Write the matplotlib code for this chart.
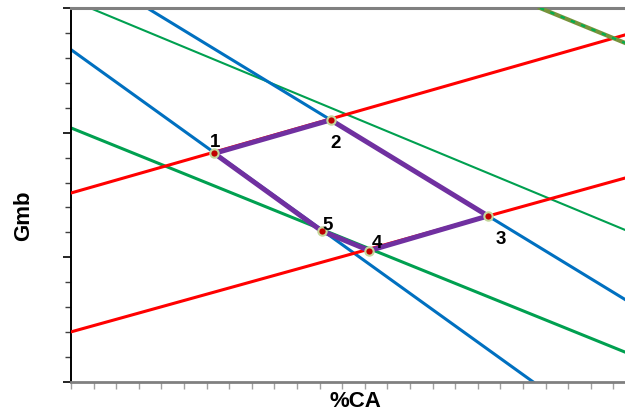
import matplotlib
matplotlib.use("Agg")
import matplotlib.pyplot as plt
from matplotlib.ticker import MultipleLocator

plt.rcParams['font.family'] = ['Liberation Sans', 'DejaVu Sans']

# Points of the polygon (data units)
pt_labels = ["1", "2", "3", "4", "5"]
pt_x = [6.34, 11.49, 18.45, 13.20, 11.09]
pt_y = [9.17, 10.51, 6.66, 5.27, 6.06]

# Straight lines: endpoints (x0, x1), (y0, y1)
red1_x, red1_y = [0.0, 24.51], [7.58, 13.92]
red2_x, red2_y = [0.0, 24.51], [2.01, 8.18]
blue1_x, blue1_y = [0.0, 20.45], [13.33, 0.0]
blue2_x, blue2_y = [3.37, 24.51], [15.0, 3.31]
green_thin_x, green_thin_y = [0.84, 24.51], [15.0, 6.10]
green_thick_x, green_thick_y = [0.0, 24.51], [10.19, 1.20]
dash_x, dash_y = [20.75, 24.51], [15.0, 13.6]

fig = plt.figure(figsize=(6.25, 4.15), dpi=100)
ax = fig.add_axes([71/625, 33/415, (625-71)/625, 374/415])
ax.set_xlim(0, 24.51)
ax.set_ylim(0, 15)

blue = '#0070C0'
red = '#FF0000'
green = '#00A050'

ax.plot(green_thin_x, green_thin_y, color=green, lw=1.5, zorder=2)
ax.plot(green_thick_x, green_thick_y, color=green, lw=2.2, zorder=2)
ax.plot(blue1_x, blue1_y, color=blue, lw=2.2, zorder=2)
ax.plot(blue2_x, blue2_y, color=blue, lw=2.2, zorder=2)
ax.plot(red1_x, red1_y, color=red, lw=2.2, zorder=3)
ax.plot(red2_x, red2_y, color=red, lw=2.2, zorder=3)
ax.plot(dash_x, dash_y, color='#77933C', lw=3.0, zorder=3)
ax.plot(dash_x, dash_y, color='#00B050', lw=1.6, ls=(0, (2, 3)), zorder=3)

poly_x = pt_x + [pt_x[0]]
poly_y = pt_y + [pt_y[0]]
ax.plot(poly_x, poly_y, color='#7030A0', lw=3.6, zorder=4, solid_joinstyle='round')
ax.plot(pt_x, pt_y, ls='none', marker='o', ms=6, mfc='#C00000', mec='#C4D79B', mew=1.5, zorder=5)

offsets = {"1": (0.05, 0.45), "2": (0.2, -0.95), "3": (0.55, -0.95), "4": (0.35, 0.3), "5": (0.25, 0.2)}
for lab, x, y in zip(pt_labels, pt_x, pt_y):
    dx, dy = offsets[lab]
    ax.text(x + dx, y + dy, lab, fontsize=13.5, fontweight='bold', ha='center', va='center', zorder=6)

ax.xaxis.set_major_locator(MultipleLocator(1))
ax.yaxis.set_major_locator(MultipleLocator(5))
ax.yaxis.set_minor_locator(MultipleLocator(1))
ax.tick_params(axis='x', which='major', direction='out', length=5, width=1, color='#A0A0A0', labelbottom=False)
ax.tick_params(axis='y', which='major', direction='out', length=6, width=1.2, color='black', labelleft=False)
ax.tick_params(axis='y', which='minor', direction='out', length=4, width=1, color='#404040')

ax.spines['right'].set_visible(False)
ax.spines['left'].set_color('black')
ax.spines['left'].set_linewidth(1.4)
ax.spines['top'].set_color('#808080')
ax.spines['top'].set_linewidth(2.2)
ax.spines['bottom'].set_color('#808080')
ax.spines['bottom'].set_linewidth(2.0)

fig.text(355/625, 1 - 401/415, '%CA', fontsize=16, fontweight='bold', ha='center', va='center')
fig.text(24/625, 1 - 216/415, 'Gmb', fontsize=16, fontweight='bold', ha='center', va='center', rotation=90)

fig.savefig('out.png', dpi=100)
